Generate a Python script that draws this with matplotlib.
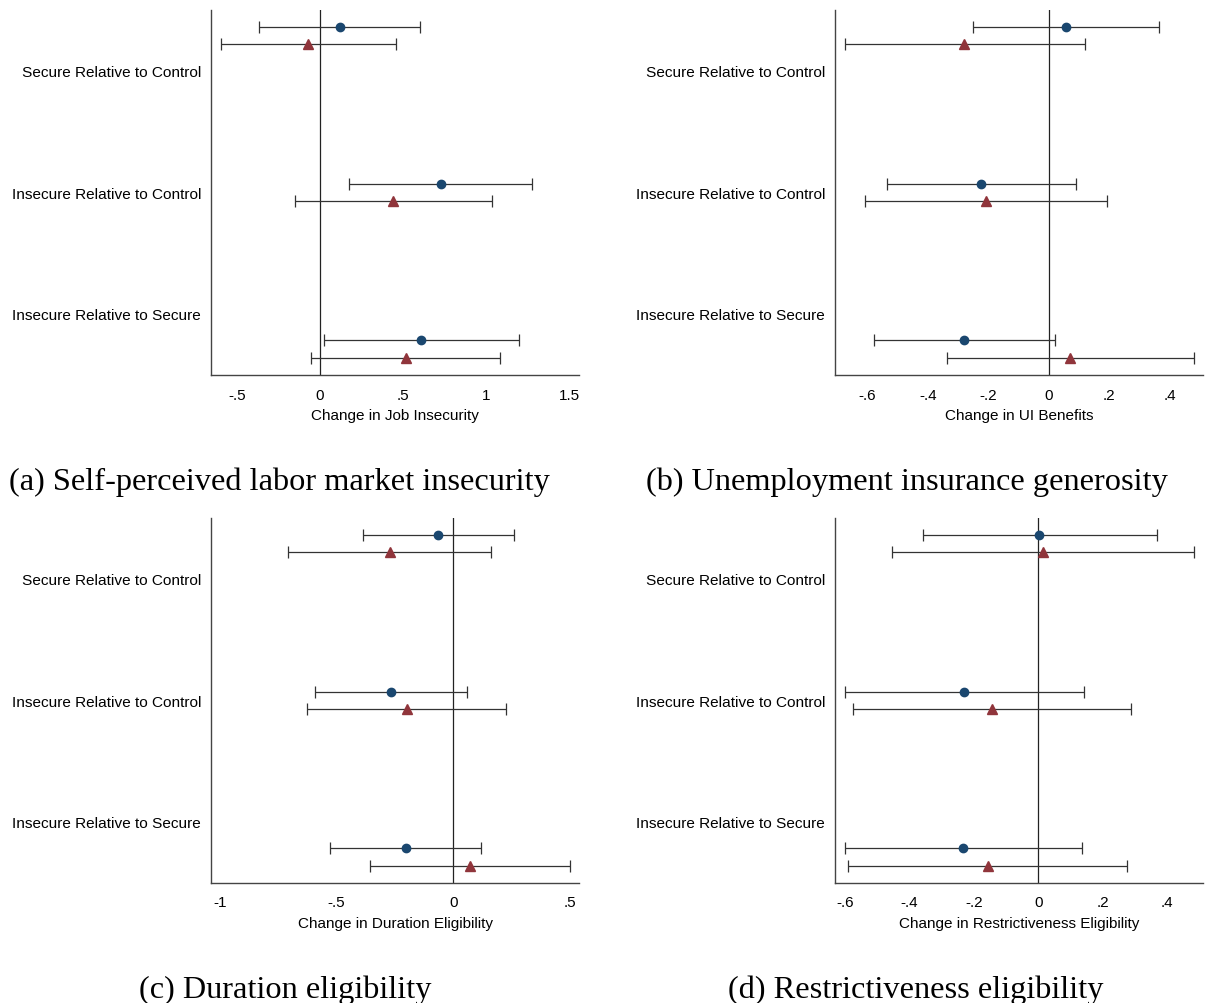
import numpy as np
import matplotlib
matplotlib.use("Agg")
import matplotlib.pyplot as plt

rows = ["Secure Relative to Control", "Insecure Relative to Control", "Insecure Relative to Secure"]

# panel (a) job insecurity
a_circ = [0.12, 0.727, 0.610]
a_circ_lo = [-0.367, 0.177, 0.024]
a_circ_hi = [0.604, 1.275, 1.197]
a_tri = [-0.070, 0.442, 0.516]
a_tri_lo = [-0.598, -0.153, -0.056]
a_tri_hi = [0.458, 1.038, 1.086]

# panel (b) UI benefits
b_circ = [0.057, -0.223, -0.280]
b_circ_lo = [-0.249, -0.536, -0.579]
b_circ_hi = [0.364, 0.092, 0.021]
b_tri = [-0.279, -0.207, 0.072]
b_tri_lo = [-0.675, -0.608, -0.337]
b_tri_hi = [0.120, 0.194, 0.480]

# panel (c) duration eligibility
c_circ = [-0.063, -0.266, -0.203]
c_circ_lo = [-0.386, -0.591, -0.527]
c_circ_hi = [0.260, 0.060, 0.120]
c_tri = [-0.271, -0.200, 0.071]
c_tri_lo = [-0.707, -0.626, -0.357]
c_tri_hi = [0.164, 0.226, 0.500]

# panel (d) restrictiveness eligibility
d_circ = [0.004, -0.229, -0.233]
d_circ_lo = [-0.358, -0.600, -0.600]
d_circ_hi = [0.369, 0.143, 0.136]
d_tri = [0.016, -0.144, -0.157]
d_tri_lo = [-0.453, -0.575, -0.591]
d_tri_hi = [0.483, 0.288, 0.275]

xlabels = ["Change in Job Insecurity", "Change in UI Benefits",
           "Change in Duration Eligibility", "Change in Restrictiveness Eligibility"]
captions = ["(a) Self-perceived labor market insecurity", "(b) Unemployment insurance generosity",
            "(c) Duration eligibility", "(d) Restrictiveness eligibility"]
xticks = [[-0.5, 0, 0.5, 1, 1.5], [-0.6, -0.4, -0.2, 0, 0.2, 0.4],
          [-1, -0.5, 0, 0.5], [-0.6, -0.4, -0.2, 0, 0.2, 0.4]]
xlims = [(-0.657, 1.56), (-0.707, 0.511), (-1.039, 0.540), (-0.631, 0.512)]

navy = "#1a476f"
maroon = "#90353b"

W, H = 1209, 1004
fig = plt.figure(figsize=(W / 100, H / 100), dpi=100)

def fmt(v):
    if v == 0:
        return "0"
    s = ("%g" % v)
    return s.replace("0.", ".")

panels = [
    (a_circ, a_circ_lo, a_circ_hi, a_tri, a_tri_lo, a_tri_hi),
    (b_circ, b_circ_lo, b_circ_hi, b_tri, b_tri_lo, b_tri_hi),
    (c_circ, c_circ_lo, c_circ_hi, c_tri, c_tri_lo, c_tri_hi),
    (d_circ, d_circ_lo, d_circ_hi, d_tri, d_tri_lo, d_tri_hi),
]
# pixel boxes: left, right, top, bottom
boxes = [(211, 579, 11, 376), (835, 1203, 11, 376), (211, 579, 519, 884), (835, 1203, 519, 884)]
cap_pos = [(279, 482), (907, 482), (285, 990), (916, 990)]

ypos = np.arange(1, 4)
off = 0.055
sans = "Liberation Sans"

for i, (p, box) in enumerate(zip(panels, boxes)):
    l, r, t, b = box
    ax = fig.add_axes([l / W, 1 - b / H, (r - l) / W, (b - t) / H])
    cm, clo, chi, tm, tlo, thi = [np.array(v) for v in p]
    ax.axvline(0, color="#222222", lw=0.9, zorder=1)
    ax.errorbar(cm, ypos - off, xerr=[cm - clo, chi - cm], fmt="o", color=navy,
                ecolor="#333333", elinewidth=0.9, capsize=4, capthick=0.9,
                markersize=6, zorder=3)
    ax.errorbar(tm, ypos + off, xerr=[tm - tlo, thi - tm], fmt="^", color=maroon,
                ecolor="#333333", elinewidth=0.9, capsize=4, capthick=0.9,
                markersize=7, zorder=3)
    ax.set_ylim(3.166, 0.837)
    ax.set_xlim(*xlims[i])
    ax.set_yticks([1.225, 2, 2.775])
    ax.set_yticklabels(rows, fontsize=11.1, family=sans)
    ax.set_xticks(xticks[i])
    ax.set_xticklabels([fmt(v) for v in xticks[i]], fontsize=11, family=sans)
    ax.tick_params(axis="both", length=0)
    ax.tick_params(axis="y", pad=7.2)
    ax.tick_params(axis="x", pad=9)
    ax.set_xlabel(xlabels[i], fontsize=11, family=sans, labelpad=5)
    for s in ["top", "right"]:
        ax.spines[s].set_visible(False)
    for s in ["left", "bottom"]:
        ax.spines[s].set_color("#444444")
        ax.spines[s].set_linewidth(1.0)
    cx, cy = cap_pos[i]
    fig.text(cx / W, 1 - cy / H, captions[i], ha="center", va="center",
             fontsize=23.3, family="Liberation Serif")

fig.savefig("out.png", dpi=100)
